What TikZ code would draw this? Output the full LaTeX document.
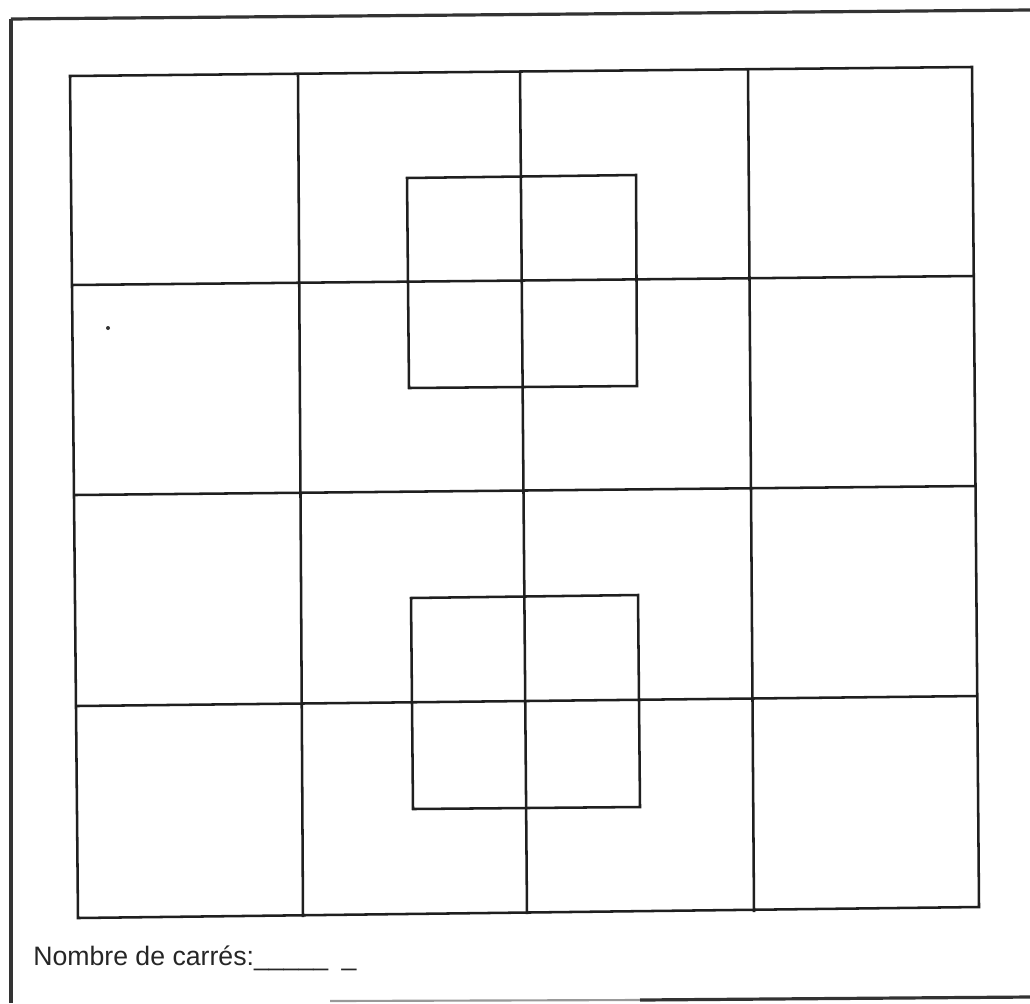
\documentclass[tikz,border=0pt]{standalone}
\usepackage{fontspec}
\setmainfont{Liberation Sans}
\begin{document}
\begin{tikzpicture}[x=0.75pt,y=-0.75pt,
  gridline/.style={line width=1.9pt,black!88},
  frameline/.style={line width=2.4pt,black!80},
  smallsq/.style={line width=1.9pt,black!88}]
\useasboundingbox[fill=white] (0,0) rectangle (1030,1003);
% outer frame of the sheet
\coordinate (fTL) at (11,19);
\coordinate (fTR) at (1030,10);
\coordinate (fBL) at (11,1003);
\draw[frameline,line width=3.2pt] (fTL) -- (fBL);
\draw[frameline] (fTL) -- (fTR);
\coordinate (bA) at (330,1001);
\coordinate (bB) at (640,1000);
\coordinate (bC) at (1030,997);
\draw[line width=1.6pt,black!40] (bA) -- (bB);
\draw[frameline] (bB) -- (bC);
% grid corners
\coordinate (c00) at (70,76);   \coordinate (c10) at (298,75);
\coordinate (c20) at (520,72);  \coordinate (c30) at (748,70);
\coordinate (c40) at (972,67);
\coordinate (c04) at (78,918);  \coordinate (c14) at (303,917);
\coordinate (c24) at (527,914); \coordinate (c34) at (754,912);
\coordinate (c44) at (979,907);
\coordinate (r1l) at (72,285);  \coordinate (r1r) at (974,276);
\coordinate (r2l) at (75,495);  \coordinate (r2r) at (976,486);
\coordinate (r3l) at (77,706);  \coordinate (r3r) at (977,696);
% grid
\draw[gridline] (c00) -- (c40) -- (c44) -- (c04) -- cycle;
\draw[gridline] (c10) -- (c14);
\draw[gridline] (c20) -- (c24);
\draw[gridline] (c30) -- (c34);
\draw[gridline] (r1l) -- (r1r);
\draw[gridline] (r2l) -- (r2r);
\draw[gridline] (r3l) -- (r3r);
% upper small square
\coordinate (u1) at (407,178); \coordinate (u2) at (636,175);
\coordinate (u3) at (637,386); \coordinate (u4) at (409,388);
\draw[smallsq] (u1) -- (u2) -- (u3) -- (u4) -- cycle;
% lower small square
\coordinate (l1) at (411,598); \coordinate (l2) at (638,595);
\coordinate (l3) at (640,807); \coordinate (l4) at (413,809);
\draw[smallsq] (l1) -- (l2) -- (l3) -- (l4) -- cycle;
% scan speck
\fill[black!80] (108,328) circle (2);
% caption
\node[anchor=base west,inner sep=0pt,font=\fontsize{20}{24}\selectfont,text=black!85] (cap) at (33,965)
  {Nombre de carrés:\_\_\_\_\_\hspace{0.5em}\_};
\end{tikzpicture}
\end{document}
